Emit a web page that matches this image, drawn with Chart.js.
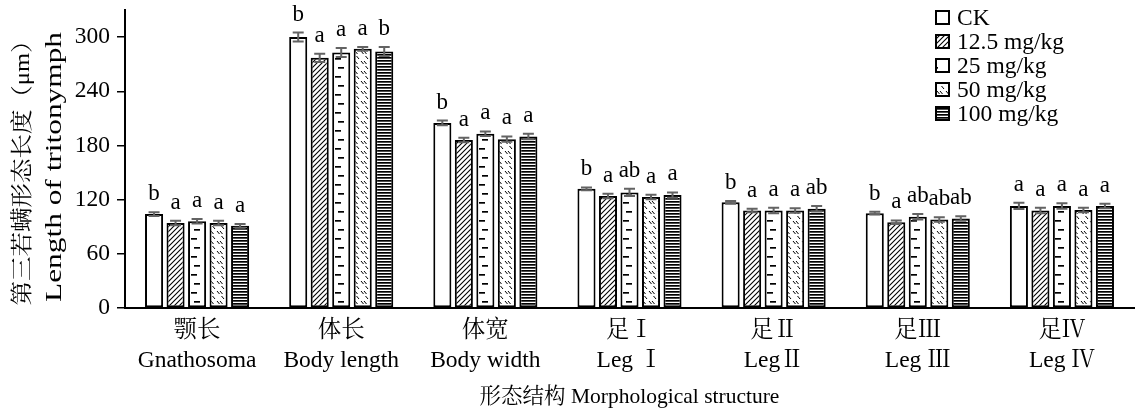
<!DOCTYPE html>
<html>
<head>
<meta charset="utf-8">
<script src="https://cdn.jsdelivr.net/npm/chart.js@4.4.1/dist/chart.umd.min.js"></script>
<style>
html,body{margin:0;padding:0;background:#fff;}
#wrap{width:1136px;height:412px;position:relative;}
</style>
</head>
<body>
<div id="wrap"><canvas id="c" width="1136" height="412"></canvas></div>
<script>
const categories = [['颚长','Gnathosoma'],['体长','Body length'],['体宽','Body width'],['足Ⅰ','Leg Ⅰ'],['足Ⅱ','LegⅡ'],['足Ⅲ','Leg Ⅲ'],['足Ⅳ','Leg Ⅳ']];
const seriesNames = ['CK','12.5 mg/kg','25 mg/kg','50 mg/kg','100 mg/kg'];
const valuesCK   = [104, 300, 205, 132, 117, 105, 113];
const values12_5 = [94, 277, 186, 124, 108, 95, 108];
const values25   = [96, 283, 193, 128, 108, 101, 113];
const values50   = [94, 287, 187, 123, 108, 98, 108.5];
const values100  = [91, 284, 190, 125, 110, 99, 113];
const errCK   = [2, 5, 2.5, 1.5, 1.5, 1.5, 3.5];
const err12_5 = [2.5, 4.5, 2.5, 2.5, 2, 2, 3];
const err25   = [2.5, 5, 2.5, 4, 3, 3, 3];
const err50   = [2.5, 2, 3, 2.5, 2.5, 2.5, 2.5];
const err100  = [2, 5, 3, 3, 3, 2.5, 2.5];
const lettersCK   = ['b','b','b','b','b','b','a'];
const letters12_5 = ['a','a','a','a','a','a','a'];
const letters25   = ['a','a','a','ab','a','ab','a'];
const letters50   = ['a','a','a','a','a','ab','a'];
const letters100  = ['a','b','a','a','ab','ab','a'];
const yTickMin = 0, yTickMax = 330, yTickStep = 30, yLabelStep = 60;
const yTitle = ['第三若螨形态长度（μm）','Length of tritonymph'];
const xTitle = '形态结构 Morphological structure';

const FONT = "'Liberation Serif','Noto Serif CJK SC','Noto Sans CJK SC',serif";

function tile(w, h, draw) {
  const c = document.createElement('canvas');
  c.width = w; c.height = h;
  const g = c.getContext('2d');
  g.fillStyle = '#fff'; g.fillRect(0, 0, w, h);
  g.strokeStyle = '#000'; g.fillStyle = '#000'; g.lineWidth = 1;
  draw(g);
  return document.getElementById('c').getContext('2d').createPattern(c, 'repeat');
}
const patWhite = '#ffffff';
const patDiag = tile(5, 5, g => {
  g.lineWidth = 1.1;
  g.beginPath();
  g.moveTo(-1, 6); g.lineTo(6, -1);
  g.moveTo(-1, 1); g.lineTo(1, -1);
  g.moveTo(4, 6); g.lineTo(6, 4);
  g.stroke();
});
const patDash = tile(18, 18, g => {
  g.fillRect(11, 4, 6, 1.7);
  g.fillRect(14, 13, 4, 1.7);
  g.fillRect(0, 13, 2, 1.7);
});
const patBack = tile(9, 10, g => {
  g.lineWidth = 1;
  g.beginPath();
  g.moveTo(1, 1); g.lineTo(3.5, 4);
  g.moveTo(4, 1); g.lineTo(6.5, 4);
  g.moveTo(5.5, 6); g.lineTo(8, 9);
  g.stroke();
});
const patHoriz = tile(4, 3, g => {
  g.fillRect(0, 0, 4, 1.7);
});

const fills = [patWhite, patDiag, patDash, patBack, patHoriz];
const allValues = [valuesCK, values12_5, values25, values50, values100];
const allErrs = [errCK, err12_5, err25, err50, err100];
const allLetters = [lettersCK, letters12_5, letters25, letters50, letters100];

const datasets = seriesNames.map((name, i) => ({
  label: name,
  data: allValues[i],
  backgroundColor: fills[i],
  borderColor: '#000',
  borderWidth: 2,
  borderSkipped: false,
  categoryPercentage: 0.746,
  barPercentage: 0.84,
  errs: allErrs[i],
  letters: allLetters[i]
}));

const errorLetterPlugin = {
  id: 'errLetters',
  afterDatasetsDraw(chart) {
    const ctx = chart.ctx;
    const y = chart.scales.y;
    chart.data.datasets.forEach((ds, di) => {
      const meta = chart.getDatasetMeta(di);
      meta.data.forEach((bar, i) => {
        const v = ds.data[i], e = ds.errs[i];
        const yt = y.getPixelForValue(v + e), yb = y.getPixelForValue(v - e);
        const x = bar.x;
        ctx.save();
        ctx.strokeStyle = '#636363';
        ctx.lineWidth = 2;
        ctx.beginPath();
        ctx.moveTo(x, yt); ctx.lineTo(x, yb);
        ctx.moveTo(x - 5.5, yt); ctx.lineTo(x + 5.5, yt);
        ctx.moveTo(x - 5.5, yb); ctx.lineTo(x + 5.5, yb);
        ctx.stroke();
        ctx.fillStyle = '#000';
        ctx.font = '23px ' + FONT;
        ctx.textAlign = 'center';
        ctx.textBaseline = 'alphabetic';
        ctx.fillText(ds.letters[i], x, yt - 12);
        ctx.restore();
      });
    });
  }
};

const legendPlugin = {
  id: 'customLegend',
  afterDraw(chart) {
    const ctx = chart.ctx;
    chart.data.datasets.forEach((ds, i) => {
      const cy = 18 + i * 24;
      ctx.save();
      ctx.fillStyle = ds.backgroundColor;
      ctx.fillRect(936, cy - 7, 13, 13);
      ctx.strokeStyle = '#000';
      ctx.lineWidth = 2;
      ctx.strokeRect(936, cy - 7, 13, 13);
      ctx.fillStyle = '#000';
      ctx.font = '23.5px ' + FONT;
      ctx.textAlign = 'left';
      ctx.textBaseline = 'middle';
      ctx.fillText(ds.label, 957, cy + 1);
      ctx.restore();
    });
  }
};

// y-axis title drawn as two rotated text lines, each fitted to the reference length
const yTitlePlugin = {
  id: 'yTitle',
  afterDraw(chart) {
    const ctx = chart.ctx;
    const specs = [
      { text: yTitle[0], x: 23, cy: 167, len: 277, size: 22 },
      { text: yTitle[1], x: 55, cy: 167, len: 270, size: 23 }
    ];
    specs.forEach(s => {
      ctx.save();
      ctx.font = s.size + 'px ' + FONT;
      const w = ctx.measureText(s.text).width;
      ctx.translate(s.x, s.cy);
      ctx.rotate(-Math.PI / 2);
      ctx.scale(s.len / w, 1);
      ctx.fillStyle = '#000';
      ctx.textAlign = 'center';
      ctx.textBaseline = 'middle';
      ctx.fillText(s.text, 0, 0);
      ctx.restore();
    });
  }
};

new Chart(document.getElementById('c'), {
  type: 'bar',
  data: { labels: categories, datasets },
  plugins: [errorLetterPlugin, legendPlugin, yTitlePlugin],
  options: {
    responsive: false,
    animation: false,
    devicePixelRatio: 1,
    layout: { padding: { top: 10, right: 2, left: 0, bottom: 0 } },
    plugins: { legend: { display: false }, tooltip: { enabled: false } },
    scales: {
      x: {
        grid: { display: false, drawTicks: false },
        border: { color: '#000', width: 2 },
        ticks: {
          color: '#000',
          font: { family: FONT, size: 23.5, lineHeight: 1.28 },
          padding: 8,
          maxRotation: 0,
          autoSkip: false
        },
        title: {
          display: true,
          text: xTitle,
          color: '#000',
          font: { family: FONT, size: 21.5, lineHeight: 1.2 },
          padding: { top: 0, bottom: 2 }
        },
        afterFit(s) { s.height = 104; s.paddingLeft = 0; s.paddingRight = 0; }
      },
      y: {
        min: yTickMin,
        max: yTickMax,
        grid: { drawOnChartArea: false, drawTicks: true, tickLength: 8, color: '#000', lineWidth: 1.5 },
        border: { color: '#000', width: 2 },
        ticks: {
          stepSize: yTickStep,
          color: '#000',
          font: { family: FONT, size: 23.5 },
          padding: 7,
          callback: v => (v % yLabelStep === 0 ? String(v) : '')
        },
        title: { display: false, text: yTitle },
        afterFit(s) { s.width = 125; s.paddingTop = 0; s.paddingBottom = 0; }
      }
    }
  }
});
</script>
</body>
</html>
